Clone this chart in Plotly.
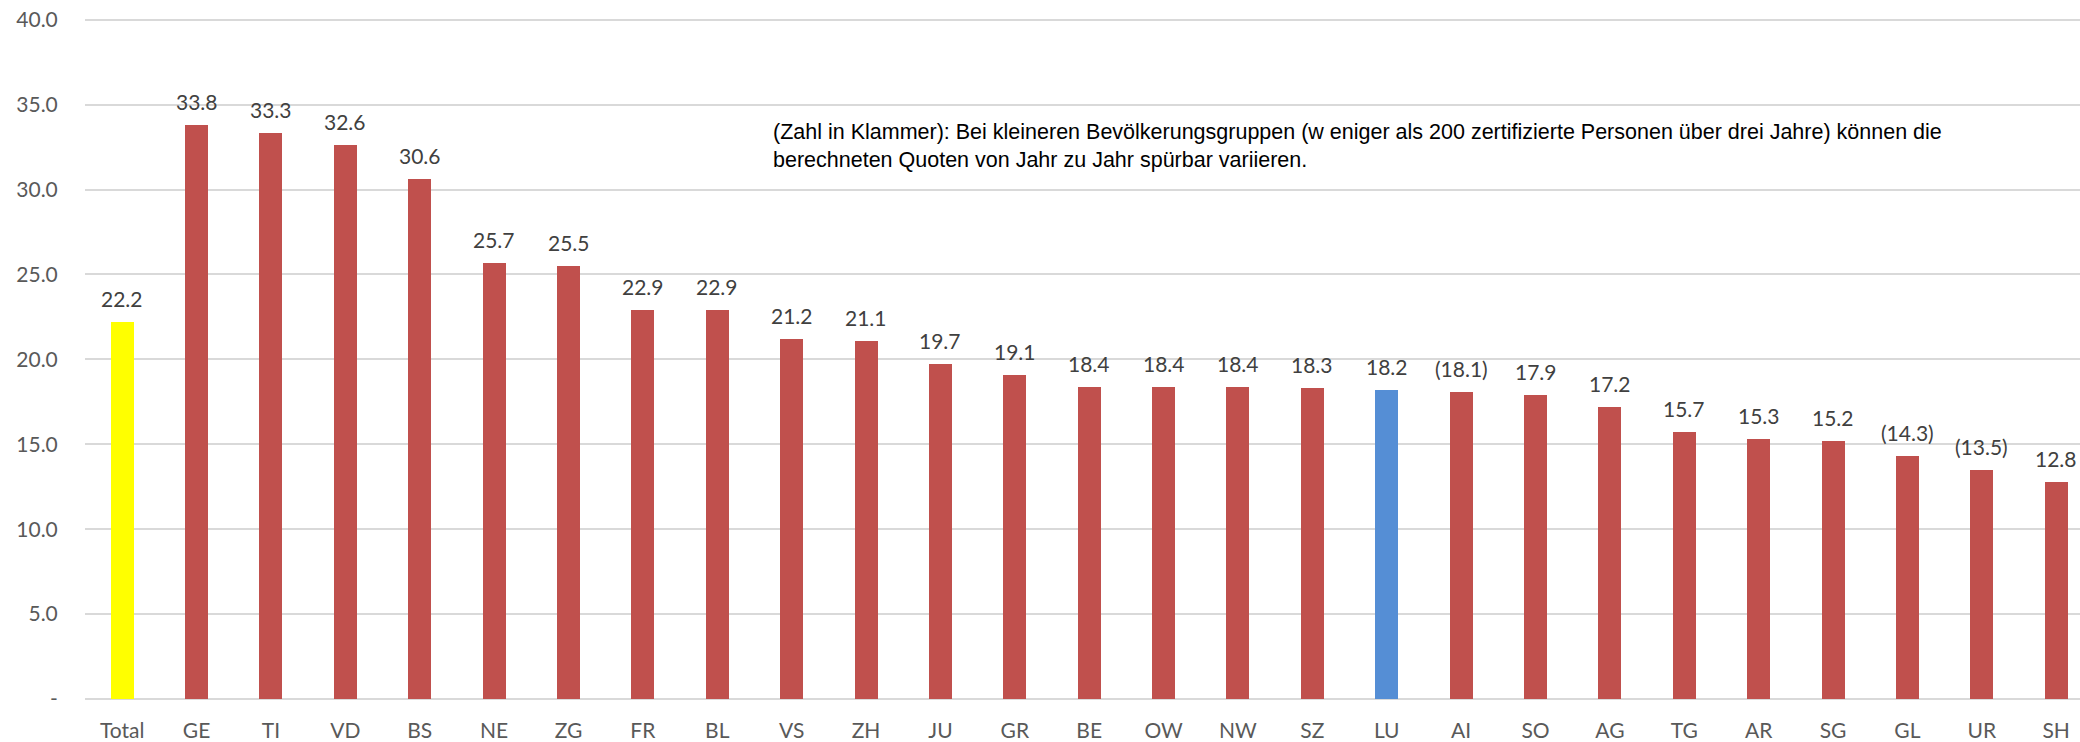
import plotly.graph_objects as go

categories = ["Total", "GE", "TI", "VD", "BS", "NE", "ZG", "FR", "BL", "VS", "ZH", "JU", "GR",
              "BE", "OW", "NW", "SZ", "LU", "AI", "SO", "AG", "TG", "AR", "SG", "GL", "UR", "SH"]
values = [22.2, 33.8, 33.3, 32.6, 30.6, 25.7, 25.5, 22.9, 22.9, 21.2, 21.1, 19.7, 19.1,
          18.4, 18.4, 18.4, 18.3, 18.2, 18.1, 17.9, 17.2, 15.7, 15.3, 15.2, 14.3, 13.5, 12.8]
small_groups = ["AI", "GL", "UR"]
tick_vals = [0, 5, 10, 15, 20, 25, 30, 35, 40]
tick_text = ["-", "5.0", "10.0", "15.0", "20.0", "25.0", "30.0", "35.0", "40.0"]
note = ("(Zahl in Klammer): Bei kleineren Bevölkerungsgruppen (w eniger als 200 zertifizierte Personen über drei Jahre) können die<br>"
        "berechneten Quoten von Jahr zu Jahr spürbar variieren.")

RED, YELLOW, BLUE = "#C0504D", "#FFFF00", "#558ED5"
colors = [YELLOW if c == "Total" else BLUE if c == "LU" else RED for c in categories]
labels = [f"({v:.1f})" if c in small_groups else f"{v:.1f}" for c, v in zip(categories, values)]

fig = go.Figure(go.Bar(x=categories, y=values, marker_color=colors, width=0.31,
                       marker_line_width=0, hoverinfo="skip"))

for c, v, t in zip(categories, values, labels):
    fig.add_annotation(x=c, y=v, text=t, showarrow=False, yanchor="bottom", yshift=9,
                       font=dict(family="Lato, Open Sans, sans-serif", size=21, color="#404040"))

fig.add_annotation(xref="paper", yref="paper", x=0.344, y=0.812, xanchor="left", yanchor="middle",
                   text=note, showarrow=False, align="left",
                   font=dict(family="Liberation Sans, Arial, sans-serif", size=21.5, color="#000000"))

fig.update_layout(
    width=2080, height=742, paper_bgcolor="white", plot_bgcolor="white",
    margin=dict(l=85, r=0, t=18, b=40), showlegend=False, bargap=0,
    font=dict(family="Lato, Open Sans, sans-serif", size=21, color="#595959"),
)
fig.update_xaxes(range=[-0.5, 26.32], showgrid=False, showline=False, ticks="outside",
                 ticklen=13, tickcolor="rgba(0,0,0,0)", tickfont=dict(size=21, color="#595959"))
fig.update_yaxes(range=[0, 40.1], tickvals=tick_vals, ticktext=tick_text, showgrid=True,
                 gridcolor="#D9D9D9", gridwidth=1.5, zeroline=True, zerolinecolor="#D9D9D9",
                 zerolinewidth=1.5, showline=False, ticks="outside", ticklen=22,
                 tickcolor="rgba(0,0,0,0)", tickfont=dict(size=21, color="#595959"),
                 ticklabeloverflow="allow")

fig.write_html("out.html", config={"displayModeBar": False},
               post_script="document.body.style.margin='0';document.body.style.overflow='hidden';")
